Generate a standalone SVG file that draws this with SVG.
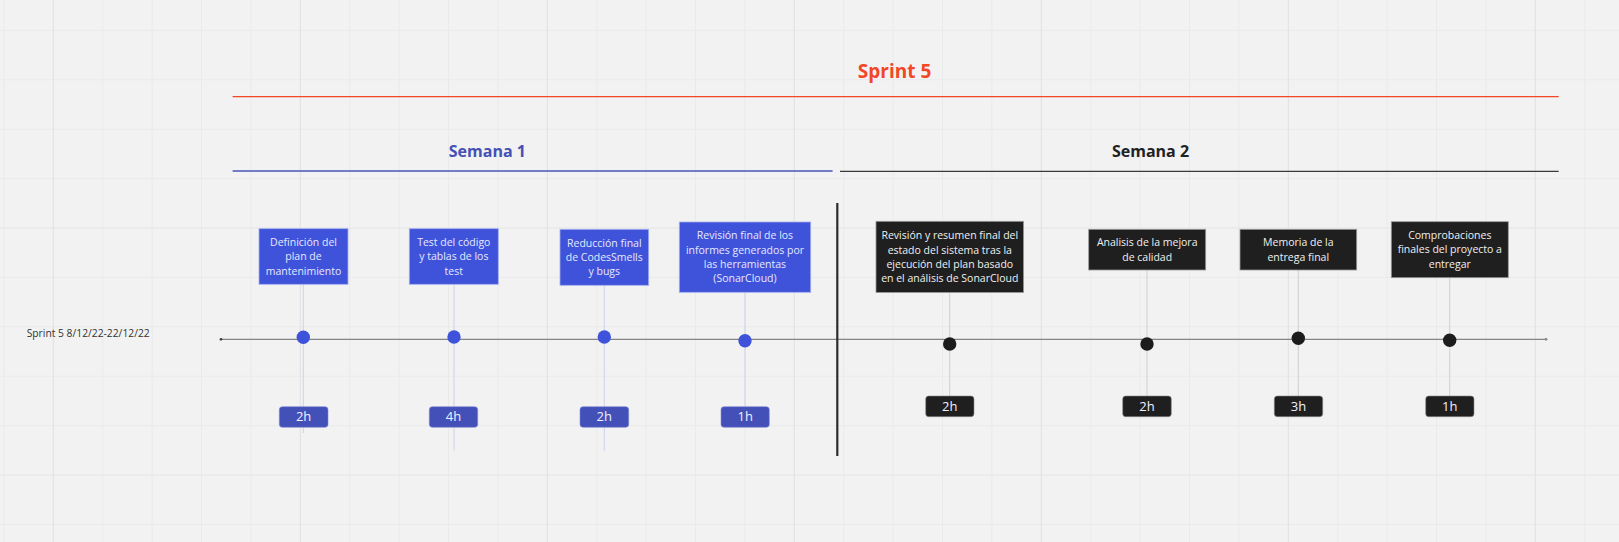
<svg xmlns="http://www.w3.org/2000/svg" width="1619" height="542" viewBox="0 0 1619 542">
<style>
text{font-family:"Open Sans","Noto Sans","Liberation Sans",sans-serif}
.grid{stroke:#eaeaea;stroke-width:1;fill:none}
.gridM{stroke:#e3e3e3;stroke-width:1.2;fill:none}
.card-b{fill:#3e53d9;stroke:#a3aef0;stroke-width:0.8}
.card-k{fill:#1f1f1f;stroke:#9a9a9a;stroke-width:0.8}
.ct-b{fill:#e6e8ff;font-size:10.5px;text-anchor:middle}
.ct-k{fill:#f0f0f0;font-size:10.5px;text-anchor:middle}
.pill-b{fill:#4350b8;stroke:#7e88d8;stroke-width:0.6}
.pill-k{fill:#1f1f1f;stroke:#8a8a8a;stroke-width:0.6}
.pt{fill:#f0f0ff;font-size:13px;font-weight:500;text-anchor:middle}
.stem-b{stroke:#cdd0e8;stroke-width:1}
.stem-k{stroke:#cfcfcf;stroke-width:1}
.dot-b{fill:#3e53d9}
.dot-k{fill:#1c1c1c}
</style>
<rect width="1619" height="542" fill="#f2f2f2"/>
<path class="grid" d="M3.9 0V542M102.7 0V542M152.1 0V542M201.5 0V542M250.9 0V542M349.7 0V542M399.1 0V542M448.5 0V542M497.9 0V542M596.7 0V542M646.1 0V542M695.5 0V542M744.9 0V542M843.7 0V542M893.1 0V542M942.5 0V542M991.9 0V542M1090.7 0V542M1140.1 0V542M1189.5 0V542M1238.9 0V542M1337.7 0V542M1387.1 0V542M1436.5 0V542M1485.9 0V542M1584.7 0V542M0 30.4H1619M0 79.8H1619M0 129.2H1619M0 178.6H1619M0 277.4H1619M0 326.8H1619M0 376.2H1619M0 425.6H1619M0 524.4H1619"/>
<path class="gridM" d="M53.3 0V542M300.3 0V542M547.3 0V542M794.3 0V542M1041.3 0V542M1288.3 0V542M1535.3 0V542M0 228H1619M0 475H1619"/>

<g id="sprint-header">
<line x1="232.6" y1="96.6" x2="1558.7" y2="96.6" stroke="#f24726" stroke-width="1.3"/>
<text x="894.6" y="78.3" font-size="19px" font-weight="700" fill="#f24726" text-anchor="middle">Sprint 5</text>
</g>
<g id="semana-1">
<line x1="232.6" y1="171" x2="832.6" y2="171" stroke="#4a55b8" stroke-width="1.3"/>
<text x="487.3" y="156.7" font-size="16px" font-weight="700" fill="#4450b5" text-anchor="middle">Semana 1</text>
</g>
<g id="semana-2">
<line x1="840" y1="171.3" x2="1558.7" y2="171.3" stroke="#3a3a3a" stroke-width="1.3"/>
<text x="1150.5" y="156.7" font-size="16px" font-weight="700" fill="#222222" text-anchor="middle">Semana 2</text>
</g>
<g id="sprint-label">
<text x="26.7" y="337.3" font-size="10.2px" fill="#333333" textLength="123" lengthAdjust="spacingAndGlyphs">Sprint 5 8/12/22-22/12/22</text>
</g>

<g id="connectors">
<line x1="221" y1="339.3" x2="1546" y2="339.3" stroke="#858585" stroke-width="1.2"/>
<circle cx="221" cy="339.3" r="1.4" fill="#444"/>
<circle cx="1546" cy="339.3" r="1.4" fill="#888"/>
<line x1="837.3" y1="203" x2="837.3" y2="456" stroke="#2b2b2b" stroke-width="2.2"/>
<line class="stem-b" x1="303.3" y1="284.3" x2="303.3" y2="433"/>
<line class="stem-b" x1="454" y1="284.3" x2="454" y2="450.7"/>
<line class="stem-b" x1="604.3" y1="285.3" x2="604.3" y2="450.7"/>
<line class="stem-b" x1="745" y1="292.3" x2="745" y2="406.7"/>
<line class="stem-k" x1="949.7" y1="292.5" x2="949.7" y2="396"/>
<line class="stem-k" x1="1147" y1="270" x2="1147" y2="396"/>
<line class="stem-k" x1="1298.3" y1="270" x2="1298.3" y2="396"/>
<line class="stem-k" x1="1449.7" y1="277.7" x2="1449.7" y2="396"/>
</g>

<g id="task-1">
<rect class="card-b" x="259" y="228.7" width="89" height="55.6"/>
<text class="ct-b"><tspan x="303.5" y="246">Definición del</tspan><tspan x="303.5" y="260.3">plan de</tspan><tspan x="303.5" y="274.6">mantenimiento</tspan></text>
<circle class="dot-b" cx="303.3" cy="337.3" r="6.7"/>
<rect class="pill-b" x="279.3" y="406.7" width="48.7" height="20.6" rx="3"/>
<text class="pt" x="303.6" y="421.2">2h</text>
</g>
<g id="task-2">
<rect class="card-b" x="409.3" y="228.7" width="89" height="55.6"/>
<text class="ct-b"><tspan x="453.8" y="246">Test del código</tspan><tspan x="453.8" y="260.3">y tablas de los</tspan><tspan x="453.8" y="274.6">test</tspan></text>
<circle class="dot-b" cx="454" cy="337" r="6.7"/>
<rect class="pill-b" x="429.3" y="406.7" width="48.4" height="20.6" rx="3"/>
<text class="pt" x="453.5" y="421.2">4h</text>
</g>
<g id="task-3">
<rect class="card-b" x="560" y="229.3" width="88.7" height="56"/>
<text class="ct-b"><tspan x="604.3" y="246.7">Reducción final</tspan><tspan x="604.3" y="261">de CodesSmells</tspan><tspan x="604.3" y="275.3">y bugs</tspan></text>
<circle class="dot-b" cx="604.3" cy="337" r="6.7"/>
<rect class="pill-b" x="580" y="406.7" width="48.7" height="20.6" rx="3"/>
<text class="pt" x="604.3" y="421.2">2h</text>
</g>
<g id="task-4">
<rect class="card-b" x="679.3" y="222" width="131.4" height="70.3"/>
<text class="ct-b"><tspan x="745" y="239.4">Revisión final de los</tspan><tspan x="745" y="253.7">informes generados por</tspan><tspan x="745" y="268">las herramientas</tspan><tspan x="745" y="282.3">(SonarCloud)</tspan></text>
<circle class="dot-b" cx="745" cy="340.7" r="6.7"/>
<rect class="pill-b" x="721" y="406.7" width="48.3" height="20.6" rx="3"/>
<text class="pt" x="745.2" y="421.2">1h</text>
</g>
<g id="task-5">
<rect class="card-k" x="876" y="221.3" width="147.6" height="71.2"/>
<text class="ct-k"><tspan x="949.8" y="239.2">Revisión y resumen final del</tspan><tspan x="949.8" y="253.6">estado del sistema tras la</tspan><tspan x="949.8" y="268">ejecución del plan basado</tspan><tspan x="949.8" y="282.4">en el análisis de SonarCloud</tspan></text>
<circle class="dot-k" cx="949.7" cy="344" r="6.7"/>
<rect class="pill-k" x="925.7" y="396" width="48.3" height="20.7" rx="3"/>
<text class="pt" x="949.8" y="410.5">2h</text>
</g>
<g id="task-6">
<rect class="card-k" x="1088.7" y="229.3" width="117" height="40.7"/>
<text class="ct-k"><tspan x="1147.2" y="246.2">Analisis de la mejora</tspan><tspan x="1147.2" y="260.5">de calidad</tspan></text>
<circle class="dot-k" cx="1147" cy="344" r="6.7"/>
<rect class="pill-k" x="1122.7" y="396" width="48.6" height="20.7" rx="3"/>
<text class="pt" x="1147" y="410.5">2h</text>
</g>
<g id="task-7">
<rect class="card-k" x="1240" y="229.3" width="116.7" height="40.7"/>
<text class="ct-k"><tspan x="1298.3" y="246.2">Memoria de la</tspan><tspan x="1298.3" y="260.5">entrega final</tspan></text>
<circle class="dot-k" cx="1298.3" cy="338.3" r="6.7"/>
<rect class="pill-k" x="1274.3" y="396" width="48.4" height="20.7" rx="3"/>
<text class="pt" x="1298.5" y="410.5">3h</text>
</g>
<g id="task-8">
<rect class="card-k" x="1391.3" y="221.7" width="117" height="56"/>
<text class="ct-k"><tspan x="1449.8" y="239.1">Comprobaciones</tspan><tspan x="1449.8" y="253.4">finales del proyecto a</tspan><tspan x="1449.8" y="267.7">entregar</tspan></text>
<circle class="dot-k" cx="1449.7" cy="340.3" r="6.7"/>
<rect class="pill-k" x="1425.7" y="396" width="48.3" height="20.7" rx="3"/>
<text class="pt" x="1449.8" y="410.5">1h</text>
</g>
</svg>
